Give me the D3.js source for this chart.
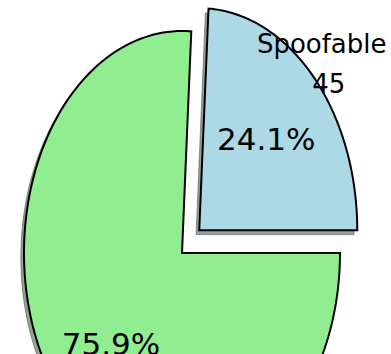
<!DOCTYPE html>
<html>
<head>
<meta charset="utf-8">
<script src="https://cdn.jsdelivr.net/npm/d3@7"></script>
<style>
  html, body { margin: 0; padding: 0; background: #ffffff; }
  svg { display: block; }
  text { font-family: "DejaVu Sans", sans-serif; fill: #000; }
</style>
</head>
<body>
<svg id="chart" width="391" height="354"></svg>
<script>
// Slice data
const categories = ["Spoofable", "Not spoofable"];
const values = [45, 142];
const colors = ["#add8e6", "#90ee90"];
const explode = [0.15, 0];
const showLabel = [true, false];

const W = 391, H = 354;
const svg = d3.select("#chart");

// Data-space scales (unit pie radius), stretched horizontally vs vertically
const x = d3.scaleLinear().domain([-1, 1]).range([182 - 158, 182 + 158]);
const y = d3.scaleLinear().domain([-1, 1]).range([253 + 222, 253 - 222]);

// Wedges start at 0° and run counter-clockwise (math convention)
const total = d3.sum(values);
const pie = d3.pie().sort(null).value(d => d)
  .startAngle(0).endAngle(2 * Math.PI);
const arcs = pie(values);

const line = d3.line().x(d => x(d[0])).y(d => y(d[1]));

function wedgePoints(a, ox, oy) {
  const n = 160;
  const pts = [[ox, oy]];
  d3.range(n + 1).forEach(i => {
    const t = a.startAngle + (a.endAngle - a.startAngle) * i / n;
    pts.push([ox + Math.cos(t), oy + Math.sin(t)]);
  });
  pts.push([ox, oy]);
  return pts;
}

const g = svg.append("g");

arcs.forEach((a, i) => {
  const mid = (a.startAngle + a.endAngle) / 2;
  const ox = explode[i] * Math.cos(mid);
  const oy = explode[i] * Math.sin(mid);
  const c = d3.rgb(colors[i]);
  const shadowCol = d3.rgb(c.r * 0.3, c.g * 0.3, c.b * 0.3);

  // drop shadow
  g.append("path")
    .attr("d", line(wedgePoints(a, ox - 0.02, oy - 0.02)) + "Z")
    .attr("fill", shadowCol)
    .attr("fill-opacity", 0.5)
    .attr("stroke", shadowCol)
    .attr("stroke-opacity", 0.5)
    .attr("stroke-width", 1);

  // wedge
  g.append("path")
    .attr("d", line(wedgePoints(a, ox, oy)) + "Z")
    .attr("fill", colors[i])
    .attr("stroke", "#000")
    .attr("stroke-width", 2)
    .attr("stroke-linejoin", "miter");
});

// Labels and percentages
arcs.forEach((a, i) => {
  const mid = (a.startAngle + a.endAngle) / 2;
  const ox = explode[i] * Math.cos(mid);
  const oy = explode[i] * Math.sin(mid);
  const pct = (100 * values[i] / total).toFixed(1) + "%";

  g.append("text")
    .attr("x", x(ox + 0.6 * Math.cos(mid)) - 2)
    .attr("y", y(oy + 0.6 * Math.sin(mid)))
    .attr("text-anchor", "middle")
    .attr("dominant-baseline", "central")
    .attr("font-size", 31)
    .text(pct);

  if (showLabel[i]) {
    const lx = x(ox + 1.1 * Math.cos(mid));
    const ly = y(oy + 1.1 * Math.sin(mid));
    const t = g.append("text")
      .attr("text-anchor", "middle")
      .attr("font-size", 26);
    t.append("tspan").attr("x", lx - 4).attr("y", ly - 10).text(categories[i]);
    t.append("tspan").attr("x", lx + 3).attr("y", ly + 30).text(values[i]);
  }
});
</script>
</body>
</html>
